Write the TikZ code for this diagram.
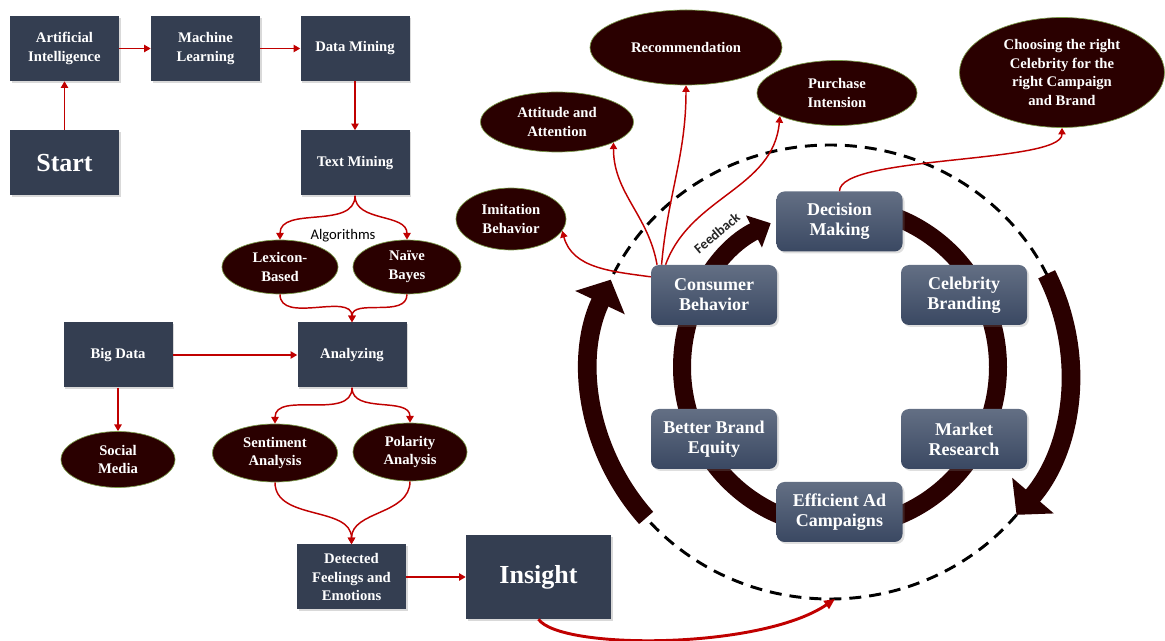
\documentclass[tikz,border=0pt]{standalone}
\usepackage{fontspec}
\setmainfont{Liberation Serif}
\newfontfamily\calibri{Carlito}
\usetikzlibrary{arrows.meta,shapes.geometric,shadows}

\definecolor{boxblue}{HTML}{343E51}
\definecolor{maroon}{HTML}{2A0000}
\definecolor{linkred}{HTML}{C00000}
\definecolor{rimgreen}{HTML}{7A9A4A}
\definecolor{stagetop}{HTML}{636F84}
\definecolor{stagebot}{HTML}{3A4862}

\tikzset{
  flowbox/.style={rectangle, fill=boxblue, text=white, align=center,
    font=\fontsize{11}{14}\selectfont\bfseries,
    minimum width=81.75pt, minimum height=48.75pt, inner sep=2pt,
    drop shadow={shadow xshift=1.2pt, shadow yshift=-1.2pt, opacity=0.3}},
  bigbox/.style={flowbox, font=\fontsize{19.5}{22}\selectfont\bfseries},
  oval/.style={ellipse, fill=maroon, draw=rimgreen, line width=0.5pt,
    text=white, align=center, inner sep=0pt,
    font=\fontsize{11}{14}\selectfont\bfseries},
  stage/.style={rectangle, rounded corners=6pt, top color=stagetop,
    bottom color=stagebot, text=white, align=center,
    font=\fontsize{13.5}{15}\selectfont\bfseries,
    minimum width=94.5pt, minimum height=45pt,
    drop shadow={shadow xshift=1.5pt, shadow yshift=-1.5pt, opacity=0.25}},
  link/.style={draw=linkred, line width=1.1pt,
    -{Triangle[length=5pt,width=5.5pt]}},
  ring/.style={draw=maroon, line width=13.5pt,
    -{Triangle[length=14pt,width=26pt]}},
  bigarrow/.style={draw=maroon, line width=14pt,
    -{Triangle[length=19pt,width=40pt]}},
}

\begin{document}
\begin{tikzpicture}[x=0.75pt,y=0.75pt]
  \useasboundingbox (0,0) rectangle (1165,-641);

  % loop behind the stages
  \draw[black, line width=2.2pt, dash pattern=on 9pt off 6pt]
    (830,-372) ellipse [x radius=240, y radius=227];
  \draw[ring] (840,-367) ++(450:158 and 160)
    arc[start angle=450, end angle=116, x radius=158, y radius=160];
  \draw[bigarrow] (830,-372) ++(220:240 and 227)
    arc[start angle=220, end angle=156, x radius=240, y radius=227];
  \draw[bigarrow] (830,-372) ++(25.5:240 and 227)
    arc[start angle=25.5, end angle=-39, x radius=240, y radius=227];

  % flow chart
  \node[flowbox] (ai) at (64.5,-48.5) {Artificial\\Intelligence};
  \node[flowbox] (ml) at (205.5,-48.5) {Machine\\Learning};
  \node[flowbox] (dm) at (355,-48.5) {Data Mining};
  \node[bigbox] (start) at (64.5,-163) {Start};
  \node[flowbox] (tm) at (355,-163) {Text Mining};
  \node[oval, minimum width=87pt, minimum height=40.5pt] (lex) at (280,-267) {Lexicon-\\Based};
  \node[oval, minimum width=81pt, minimum height=40.5pt] (nb) at (407,-267) {Naïve\\Bayes};
  \node[font=\calibri\fontsize{11}{13}\selectfont] (algo) at (343,-236) {Algorithms};
  \node[flowbox] (big) at (118,-355) {Big Data};
  \node[flowbox] (ana) at (352,-355) {Analyzing};
  \node[oval, minimum width=85.5pt, minimum height=42pt] (soc) at (118,-459.5) {Social\\Media};
  \node[oval, minimum width=93.75pt, minimum height=43.5pt] (sen) at (275,-453) {Sentiment\\Analysis};
  \node[oval, minimum width=85.5pt, minimum height=43.5pt] (pol) at (410,-452) {Polarity\\Analysis};
  \node[flowbox] (det) at (351.5,-577) {Detected\\Feelings and\\Emotions};
  \node[bigbox, minimum width=108.75pt, minimum height=63pt] (insight) at (538.5,-577) {Insight};

  % stages
  \node[stage] (cb) at (714,-295) {Consumer\\Behavior};
  \node[stage] (dmk) at (839.5,-221.5) {Decision\\Making};
  \node[stage] (cel) at (964,-295) {Celebrity\\Branding};
  \node[stage] (mr) at (964,-439) {Market\\Research};
  \node[stage] (eff) at (839.5,-512) {Efficient Ad\\Campaigns};
  \node[stage] (bbe) at (714,-439) {Better Brand\\Equity};
  \node[font=\calibri\bfseries\fontsize{10.5}{12}\selectfont, text=black!85, rotate=40, inner sep=0pt] (fbk) at (717,-233) {Feedback};

  % outcomes
  \node[oval, minimum width=82.5pt, minimum height=46.5pt] (imi) at (511,-219) {Imitation\\Behavior};
  \node[oval, minimum width=114.75pt, minimum height=45pt] (att) at (557,-122) {Attitude and\\Attention};
  \node[oval, minimum width=144pt, minimum height=56.25pt] (rec) at (686,-47.5) {Recommendation};
  \node[oval, minimum width=120pt, minimum height=48.75pt] (pur) at (837,-93) {Purchase\\Intension};
  \node[oval, minimum width=153.75pt, minimum height=82.5pt] (cho) at (1062,-72.5) {Choosing the right\\Celebrity for the\\right Campaign\\and Brand};

  \coordinate (loop) at (835,-599);

  \begin{scope}[link]
    \draw (start) to (ai);
    \draw (ai) to (ml);
    \draw (ml) to (dm);
    \draw (dm) to (tm);
    \draw (tm.south) to[out=-90,in=90] (lex.north);
    \draw (tm.south) to[out=-90,in=90] (nb.north);
    \draw (lex.south) to[out=-90,in=90] (ana.north);
    \draw (nb.south) to[out=-90,in=90] (ana.north);
    \draw (big) to (ana);
    \draw (big) to (soc);
    \draw (ana.south) to[out=-90,in=90] (sen.north);
    \draw (ana.south) to[out=-90,in=90] (pol.north);
    \draw (sen.south) to[out=-90,in=90] (det.north);
    \draw (pol.south) to[out=-90,in=90] (det.north);
    \draw (det) to (insight);
    \draw (cb.164) to[out=172,in=-75] (imi.-13);
    \draw (cb.152) to[out=100,in=-90] (att.-20);
    \draw (cb.150) to[out=85,in=-90] (rec.south);
    \draw (cb.148) to[out=70,in=-95] (pur.-158);
    \draw (dmk.north) to[out=90,in=-90,looseness=0.4] (cho.south);
  \end{scope}
  \draw[link, line width=2.2pt, -{Triangle[length=8pt,width=7pt]}]
    (insight.south) .. controls (560,-650) and (760,-650) .. (loop);
\end{tikzpicture}
\end{document}
